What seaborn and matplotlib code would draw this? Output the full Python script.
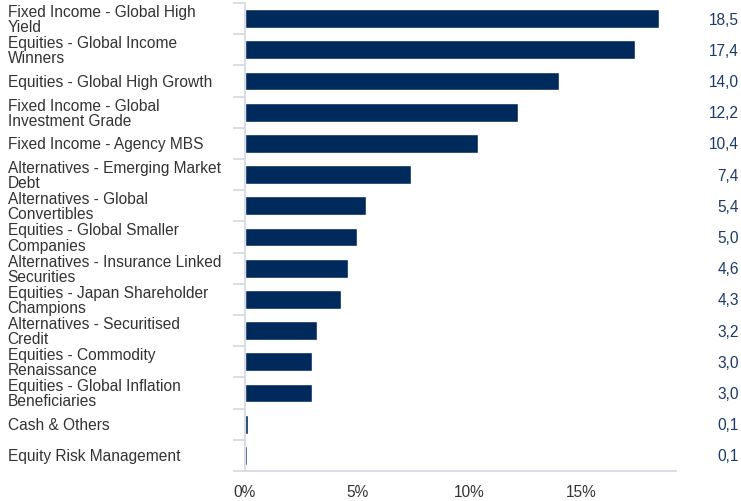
import textwrap

import matplotlib.pyplot as plt
import matplotlib.transforms as mtransforms
import numpy as np
import seaborn as sns

# --- Data ---
CATEGORIES = [
    "Fixed Income - Global High Yield",
    "Equities - Global Income Winners",
    "Equities - Global High Growth",
    "Fixed Income - Global Investment Grade",
    "Fixed Income - Agency MBS",
    "Alternatives - Emerging Market Debt",
    "Alternatives - Global Convertibles",
    "Equities - Global Smaller Companies",
    "Alternatives - Insurance Linked Securities",
    "Equities - Japan Shareholder Champions",
    "Alternatives - Securitised Credit",
    "Equities - Commodity Renaissance",
    "Equities - Global Inflation Beneficiaries",
    "Cash & Others",
    "Equity Risk Management",
]
WEIGHTS = [18.5, 17.4, 14.0, 12.2, 10.4, 7.4, 5.4, 5.0, 4.6, 4.3, 3.2, 3.0, 3.0, 0.12, 0.07]
X_TICKS = [0, 5, 10, 15]

# --- Style ---
BAR_COLOR = "#002a5c"
VALUE_COLOR = "#1c3a6b"
TEXT_COLOR = "#333333"
AXIS_COLOR = "#d3d7e0"
FONT_SIZE = 11.2

sns.set_theme(style="white")
plt.rcParams["font.family"] = ["Liberation Sans", "DejaVu Sans"]

fig = plt.figure(figsize=(7.41, 5.01), dpi=100)
ax = fig.add_axes([245 / 741, 30 / 501, 431 / 741, 468 / 501])

labels = [textwrap.fill(c, width=31) for c in CATEGORIES]
sns.barplot(x=WEIGHTS, y=labels, color=BAR_COLOR, saturation=1, width=0.6, ax=ax)

ax.set_xlim(0, 19.24)
ax.set_ylim(len(labels) - 0.5, -0.5)
ax.set_xlabel("")
ax.set_ylabel("")

# x axis: percent labels, no tick marks
ax.set_xticks(X_TICKS)
ax.set_xticklabels([f"{t}%" for t in X_TICKS])
ax.tick_params(axis="x", length=0, pad=10, labelsize=FONT_SIZE, labelcolor=TEXT_COLOR)

# y axis: left-aligned category labels at the figure edge, separators between rows
ax.tick_params(axis="y", which="major", length=0, pad=171, labelsize=FONT_SIZE,
               labelcolor=TEXT_COLOR)
for lab in ax.get_yticklabels():
    lab.set_ha("left")
    lab.set_linespacing(1.0)
ax.set_yticks(np.arange(-0.5, len(labels) + 0.5, 1), minor=True)
ax.tick_params(axis="y", which="minor", left=True, length=8.6, width=1.2,
               color=AXIS_COLOR, direction="out")

for side in ["top", "right"]:
    ax.spines[side].set_visible(False)
for side in ["left", "bottom"]:
    ax.spines[side].set_color(AXIS_COLOR)
    ax.spines[side].set_linewidth(1.2)
ax.grid(False)

# value labels in a column at the right edge
trans = mtransforms.blended_transform_factory(fig.transFigure, ax.transData)
for i, v in enumerate(WEIGHTS):
    ax.text(739 / 741, i + 0.05, f"{v:.1f}".replace(".", ","), transform=trans,
            ha="right", va="center", fontsize=FONT_SIZE, color=VALUE_COLOR)

fig.savefig("out.png", dpi=100)
